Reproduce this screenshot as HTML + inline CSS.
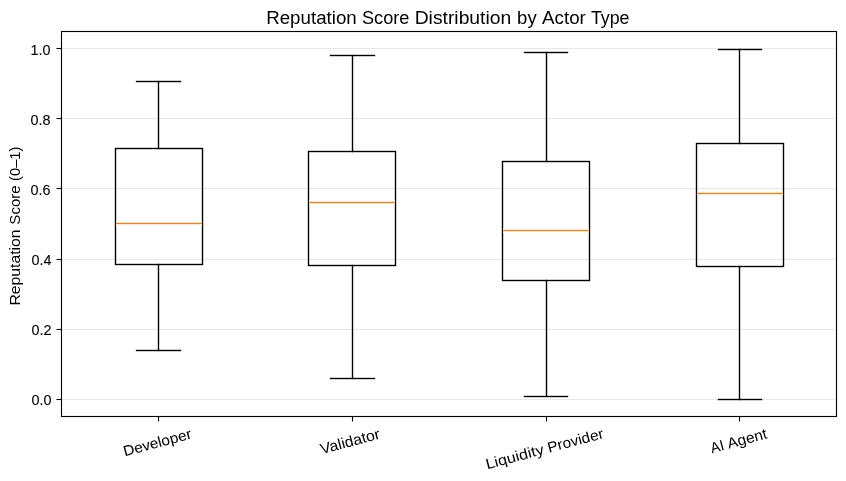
<!DOCTYPE html>
<html>
<head>
<meta charset="utf-8">
<title>Reputation Score Distribution by Actor Type</title>
<style>
  html, body { margin: 0; padding: 0; background: #ffffff; }
  body { width: 846px; height: 481px; overflow: hidden; position: relative; }
  svg { display: block; position: absolute; left: 0; top: 0; }
  /* own layer + grayscale filter => grayscale (non-LCD) text antialiasing, like the source chart */
  #labels { will-change: transform; filter: grayscale(1); text-anchor: middle; }
  text { font-family: "Liberation Sans", sans-serif; fill: #000000; }
  .grid line { stroke: #b0b0b0; stroke-opacity: 0.3; stroke-width: 1.11; }
  .ticks line { stroke: #000000; stroke-width: 1.11; }
  .box { stroke: #000000; stroke-width: 1.389; fill: none; }
  .whisk { fill: #000000; stroke: none; }
  .med rect { shape-rendering: crispEdges; }
  .spine { stroke: #000000; stroke-width: 1.11; fill: none; }
</style>
</head>
<body>
<svg id="plot" width="846" height="481" viewBox="0 0 846 481">
  <rect x="0" y="0" width="846" height="481" fill="#ffffff"/>
  <!-- horizontal grid lines -->
  <g class="grid">
    <line x1="61.5" x2="836.5" y1="48.5" y2="48.5"/>
    <line x1="61.5" x2="836.5" y1="118.5" y2="118.5"/>
    <line x1="61.5" x2="836.5" y1="188.5" y2="188.5"/>
    <line x1="61.5" x2="836.5" y1="259.5" y2="259.5"/>
    <line x1="61.5" x2="836.5" y1="329.5" y2="329.5"/>
    <line x1="61.5" x2="836.5" y1="399.5" y2="399.5"/>
  </g>
  <!-- axis ticks -->
  <g class="ticks">
    <line x1="56.5" x2="61.5" y1="48.5" y2="48.5"/>
    <line x1="56.5" x2="61.5" y1="118.5" y2="118.5"/>
    <line x1="56.5" x2="61.5" y1="188.5" y2="188.5"/>
    <line x1="56.5" x2="61.5" y1="259.5" y2="259.5"/>
    <line x1="56.5" x2="61.5" y1="329.5" y2="329.5"/>
    <line x1="56.5" x2="61.5" y1="399.5" y2="399.5"/>
    <line x1="158.5" x2="158.5" y1="416.5" y2="421.5"/>
    <line x1="352.5" x2="352.5" y1="416.5" y2="421.5"/>
    <line x1="546.5" x2="546.5" y1="416.5" y2="421.5"/>
    <line x1="739.5" x2="739.5" y1="416.5" y2="421.5"/>
  </g>
  <!-- Developer -->
  <g class="box">
    <rect x="115.5" y="148.5" width="87.0" height="116.0"/>
  </g>
  <g class="whisk">
    <rect x="157.8055" y="80.81" width="1.389" height="68.39"/>
    <rect x="157.8055" y="263.81" width="1.389" height="87.39"/>
    <rect x="135.8" y="80.8055" width="45.4" height="1.389"/>
    <rect x="135.8" y="349.8055" width="45.4" height="1.389"/>
  </g>
  <!-- Validator -->
  <g class="box">
    <rect x="308.5" y="151.5" width="87.0" height="114.0"/>
  </g>
  <g class="whisk">
    <rect x="351.8055" y="54.81" width="1.389" height="97.39"/>
    <rect x="351.8055" y="264.81" width="1.389" height="114.39"/>
    <rect x="329.8" y="54.8055" width="45.4" height="1.389"/>
    <rect x="329.8" y="377.8055" width="45.4" height="1.389"/>
  </g>
  <!-- Liquidity Provider -->
  <g class="box">
    <rect x="502.5" y="161.5" width="87.0" height="119.0"/>
  </g>
  <g class="whisk">
    <rect x="545.8055" y="51.81" width="1.389" height="110.39"/>
    <rect x="545.8055" y="279.81" width="1.389" height="117.39"/>
    <rect x="523.8" y="51.8055" width="44.4" height="1.389"/>
    <rect x="523.8" y="395.8055" width="44.4" height="1.389"/>
  </g>
  <!-- AI Agent -->
  <g class="box">
    <rect x="696.5" y="143.5" width="87.0" height="123.0"/>
  </g>
  <g class="whisk">
    <rect x="738.8055" y="48.81" width="1.389" height="95.39"/>
    <rect x="738.8055" y="265.81" width="1.389" height="134.39"/>
    <rect x="717.8" y="48.8055" width="44.4" height="1.389"/>
    <rect x="717.8" y="398.8055" width="44.4" height="1.389"/>
  </g>
  <!-- medians -->
  <g class="med">
    <rect x="116" y="221" width="86" height="1" fill="#fffaeb"/>
    <rect x="116" y="222" width="86" height="1" fill="#ffdeac"/>
    <rect x="116" y="223" width="86" height="1" fill="#c98c57"/>
    <rect x="116" y="224" width="86" height="1" fill="#ffe5ce"/>
    <rect x="116" y="225" width="86" height="1" fill="#fffcf5"/>
    <rect x="309" y="200" width="86" height="1" fill="#fffdf5"/>
    <rect x="309" y="201" width="86" height="1" fill="#ffe5cd"/>
    <rect x="309" y="202" width="86" height="1" fill="#c98c57"/>
    <rect x="309" y="203" width="86" height="1" fill="#ffdeab"/>
    <rect x="309" y="204" width="86" height="1" fill="#fffcea"/>
    <rect x="503" y="228" width="86" height="1" fill="#fffdf5"/>
    <rect x="503" y="229" width="86" height="1" fill="#ffe5cd"/>
    <rect x="503" y="230" width="86" height="1" fill="#c98c57"/>
    <rect x="503" y="231" width="86" height="1" fill="#ffdeab"/>
    <rect x="503" y="232" width="86" height="1" fill="#fffcea"/>
    <rect x="697" y="191" width="86" height="1" fill="#fffaeb"/>
    <rect x="697" y="192" width="86" height="1" fill="#ffdeac"/>
    <rect x="697" y="193" width="86" height="1" fill="#c98c57"/>
    <rect x="697" y="194" width="86" height="1" fill="#ffe5ce"/>
    <rect x="697" y="195" width="86" height="1" fill="#fffcf5"/>
  </g>
  <!-- axes frame -->
  <rect class="spine" x="61.5" y="31.5" width="775" height="385"/>
</svg>
<svg id="labels" width="846" height="481" viewBox="0 0 846 481">
  <!-- title -->
  <g transform="translate(448.0 24.0)" style="font-size:19.2px">
    <text x="-136.56" textLength="90.5" lengthAdjust="spacingAndGlyphs">Reputation</text>
    <text x="-62.31" textLength="47.43" lengthAdjust="spacingAndGlyphs">Score</text>
    <text x="14.94" textLength="96.52" lengthAdjust="spacingAndGlyphs">Distribution</text>
    <text x="78.88" textLength="19.56" lengthAdjust="spacingAndGlyphs">by</text>
    <text x="115.94" textLength="43.75" lengthAdjust="spacingAndGlyphs">Actor</text>
    <text x="162.19" textLength="38.63" lengthAdjust="spacingAndGlyphs">Type</text>
  </g>
  <!-- y tick labels -->
  <g style="font-size:15.1px; stroke:#000000; stroke-width:0.1px; text-anchor:end">
    <text x="50.6" y="55.0" textLength="20.0" lengthAdjust="spacingAndGlyphs">1.0</text>
    <text x="50.6" y="125.0" textLength="20.0" lengthAdjust="spacingAndGlyphs">0.8</text>
    <text x="50.6" y="195.0" textLength="20.0" lengthAdjust="spacingAndGlyphs">0.6</text>
    <text x="51.6" y="265.0" textLength="20.0" lengthAdjust="spacingAndGlyphs">0.4</text>
    <text x="51.6" y="335.0" textLength="20.0" lengthAdjust="spacingAndGlyphs">0.2</text>
    <text x="51.6" y="405.0" textLength="20.0" lengthAdjust="spacingAndGlyphs">0.0</text>
  </g>
  <!-- y axis label -->
  <g transform="translate(20.0 226.0) rotate(-90)" style="font-size:15.2px">
    <text x="-41.5" textLength="76.26" lengthAdjust="spacingAndGlyphs">Reputation</text>
    <text x="21.0" textLength="39.27" lengthAdjust="spacingAndGlyphs">Score</text>
    <text x="62.25" textLength="34.32" lengthAdjust="spacingAndGlyphs">(0–1)</text>
  </g>
  <!-- x tick labels (rotated 15deg) -->
  <g transform="translate(158.5 447.25) rotate(-15)" style="font-size:14.6px; stroke:#000000; stroke-width:0.05px">
    <text x="0.0" textLength="70.07" lengthAdjust="spacingAndGlyphs">Developer</text>
  </g>
  <g transform="translate(351.25 446.25) rotate(-15)" style="font-size:14.9px">
    <text x="0.0" textLength="61.07" lengthAdjust="spacingAndGlyphs">Validator</text>
  </g>
  <g transform="translate(546.0 453.5) rotate(-15)" style="font-size:14.6px">
    <text x="-31.13" textLength="59.62" lengthAdjust="spacingAndGlyphs">Liquidity</text>
    <text x="31.75" textLength="57.38" lengthAdjust="spacingAndGlyphs">Provider</text>
  </g>
  <g transform="translate(739.75 445.75) rotate(-15)" style="font-size:15.0px">
    <text x="-22.0" textLength="13.3" lengthAdjust="spacingAndGlyphs">AI</text>
    <text x="8.94" textLength="40.5" lengthAdjust="spacingAndGlyphs">Agent</text>
  </g>
</svg>
</body>
</html>
